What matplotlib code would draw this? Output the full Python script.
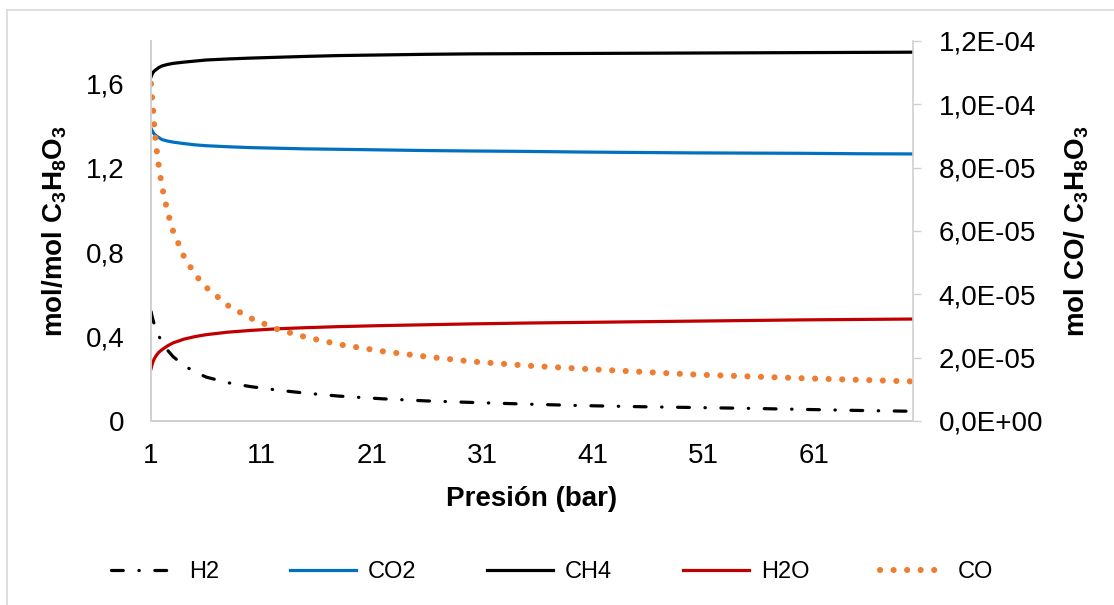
import matplotlib
matplotlib.use("Agg")
import matplotlib.pyplot as plt
from matplotlib.lines import Line2D

plt.rcParams['font.family'] = ['Liberation Sans', 'DejaVu Sans']
plt.rcParams['mathtext.fontset'] = 'custom'
plt.rcParams['mathtext.rm'] = 'Liberation Sans'
plt.rcParams['mathtext.bf'] = 'Liberation Sans:bold'
plt.rcParams['lines.scale_dashes'] = False

# ---- data ----
pressure = [1, 1.1, 1.2, 1.3, 1.5, 1.7, 2, 2.5, 3, 4, 5, 6, 8, 10, 12.5, 15, 18, 22,
            26, 30, 35, 40, 45, 50, 55, 60, 65, 70]
h2 = [0.519, 0.495, 0.475, 0.458, 0.428, 0.403, 0.375, 0.335, 0.305, 0.262, 0.232, 0.208,
      0.181, 0.163, 0.146, 0.132, 0.118, 0.105, 0.095, 0.088, 0.080, 0.073, 0.068, 0.064,
      0.060, 0.055, 0.050, 0.046]
co2 = [1.386, 1.375, 1.366, 1.359, 1.350, 1.343, 1.333, 1.326, 1.321, 1.314, 1.308, 1.304,
       1.299, 1.295, 1.292, 1.289, 1.287, 1.284, 1.281, 1.279, 1.277, 1.274, 1.272, 1.270,
       1.269, 1.268, 1.266, 1.265]
ch4 = [1.630, 1.643, 1.652, 1.658, 1.666, 1.674, 1.682, 1.689, 1.694, 1.700, 1.705, 1.710,
       1.715, 1.719, 1.723, 1.727, 1.731, 1.734, 1.737, 1.739, 1.740, 1.741, 1.742, 1.743,
       1.744, 1.745, 1.746, 1.747]
h2o = [0.247, 0.268, 0.283, 0.295, 0.312, 0.325, 0.338, 0.356, 0.370, 0.388, 0.400, 0.409,
       0.421, 0.429, 0.437, 0.442, 0.447, 0.452, 0.456, 0.460, 0.464, 0.467, 0.470, 0.473,
       0.476, 0.479, 0.481, 0.483]
co = [10.65e-5, 10.2e-5, 9.8e-5, 9.3e-5, 8.6e-5, 8.06e-5, 7.4e-5, 6.6e-5, 6.0e-5, 5.18e-5,
      4.62e-5, 4.22e-5, 3.64e-5, 3.25e-5, 2.89e-5, 2.65e-5, 2.42e-5, 2.20e-5, 2.03e-5,
      1.88e-5, 1.75e-5, 1.65e-5, 1.56e-5, 1.47e-5, 1.41e-5, 1.35e-5, 1.30e-5, 1.25e-5]

x_ticks = [1, 11, 21, 31, 41, 51, 61]
left_ticks = [0, 0.4, 0.8, 1.2, 1.6]
left_labels = ['0', '0,4', '0,8', '1,2', '1,6']
right_ticks = [0, 2e-5, 4e-5, 6e-5, 8e-5, 1e-4, 1.2e-4]
right_labels = ['0,0E+00', '2,0E-05', '4,0E-05', '6,0E-05', '8,0E-05', '1,0E-04', '1,2E-04']

W, H = 1114, 605
fig = plt.figure(figsize=(W / 100, H / 100), dpi=100)
ax = fig.add_axes([151 / W, 1 - 421 / H, (913 - 151) / W, (421 - 41) / H])
ax2 = ax.twinx()

grey = '#d0d0d0'
lw = 2.3
h2_line, = ax.plot(pressure, h2, color='black', lw=lw, dash_capstyle='round',
                   label='H2')
h2_line.set_dashes((8.5, 11.2, 0.3, 11.2))
co2_line, = ax.plot(pressure, co2, color='#0070C0', lw=lw, label='CO2')
ch4_line, = ax.plot(pressure, ch4, color='black', lw=lw, label='CH4')
h2o_line, = ax.plot(pressure, h2o, color='#C00000', lw=lw, label='H2O')
co_line, = ax2.plot(pressure, co, color='#ED7D31', lw=4.4, dash_capstyle='round',
                    label='CO')
co_line.set_dashes((0.05, 9.7))

ax.set_xlim(1, 70)
ax.set_ylim(0, 1.8)
ax2.set_ylim(0, 1.2e-4)

fs = 20
ax.set_xticks(x_ticks)
ax.set_xticklabels([str(t) for t in x_ticks], fontsize=fs)
ax.set_yticks(left_ticks)
ax.set_yticklabels(left_labels, fontsize=fs)
ax2.set_yticks(right_ticks)
ax2.set_yticklabels(right_labels, fontsize=fs)

ax.tick_params(axis='x', length=0, pad=16)
ax.tick_params(axis='y', length=0, pad=19)
ax2.tick_params(axis='y', length=6, width=1, color=grey, pad=12.5, direction='out')

for a in (ax, ax2):
    a.spines['top'].set_visible(False)
    for s in ('left', 'right', 'bottom'):
        a.spines[s].set_color(grey)
        a.spines[s].set_linewidth(1.2)
ax.spines['right'].set_visible(False)

ax.set_xlabel('Presión (bar)', fontsize=fs, fontweight='bold', labelpad=12)
ax.set_ylabel(r'mol/mol C$_\mathbf{3}$H$_\mathbf{8}$O$_\mathbf{3}$', fontsize=fs,
              fontweight='bold', labelpad=12)
ax2.set_ylabel(r'mol CO/ C$_\mathbf{3}$H$_\mathbf{8}$O$_\mathbf{3}$', fontsize=fs,
               fontweight='bold', labelpad=14)

handles = [h2_line, co2_line, ch4_line, h2o_line, co_line]
fig.legend(handles=handles, labels=[h.get_label() for h in handles], loc='center',
           bbox_to_anchor=(552 / W, 1 - 572 / H), ncol=5, frameon=False, fontsize=17,
           handlelength=2.8, handletextpad=0.5, columnspacing=3.0)

# chart-area border (only top and left visible)
fig.add_artist(Line2D([7 / W, 7 / W], [0, 1 - 10 / H], transform=fig.transFigure,
                      color='#d9d9d9', lw=1.2))
fig.add_artist(Line2D([7 / W, 1], [1 - 10 / H, 1 - 10 / H], transform=fig.transFigure,
                      color='#d9d9d9', lw=1.2))

fig.savefig('out.png', dpi=100)
